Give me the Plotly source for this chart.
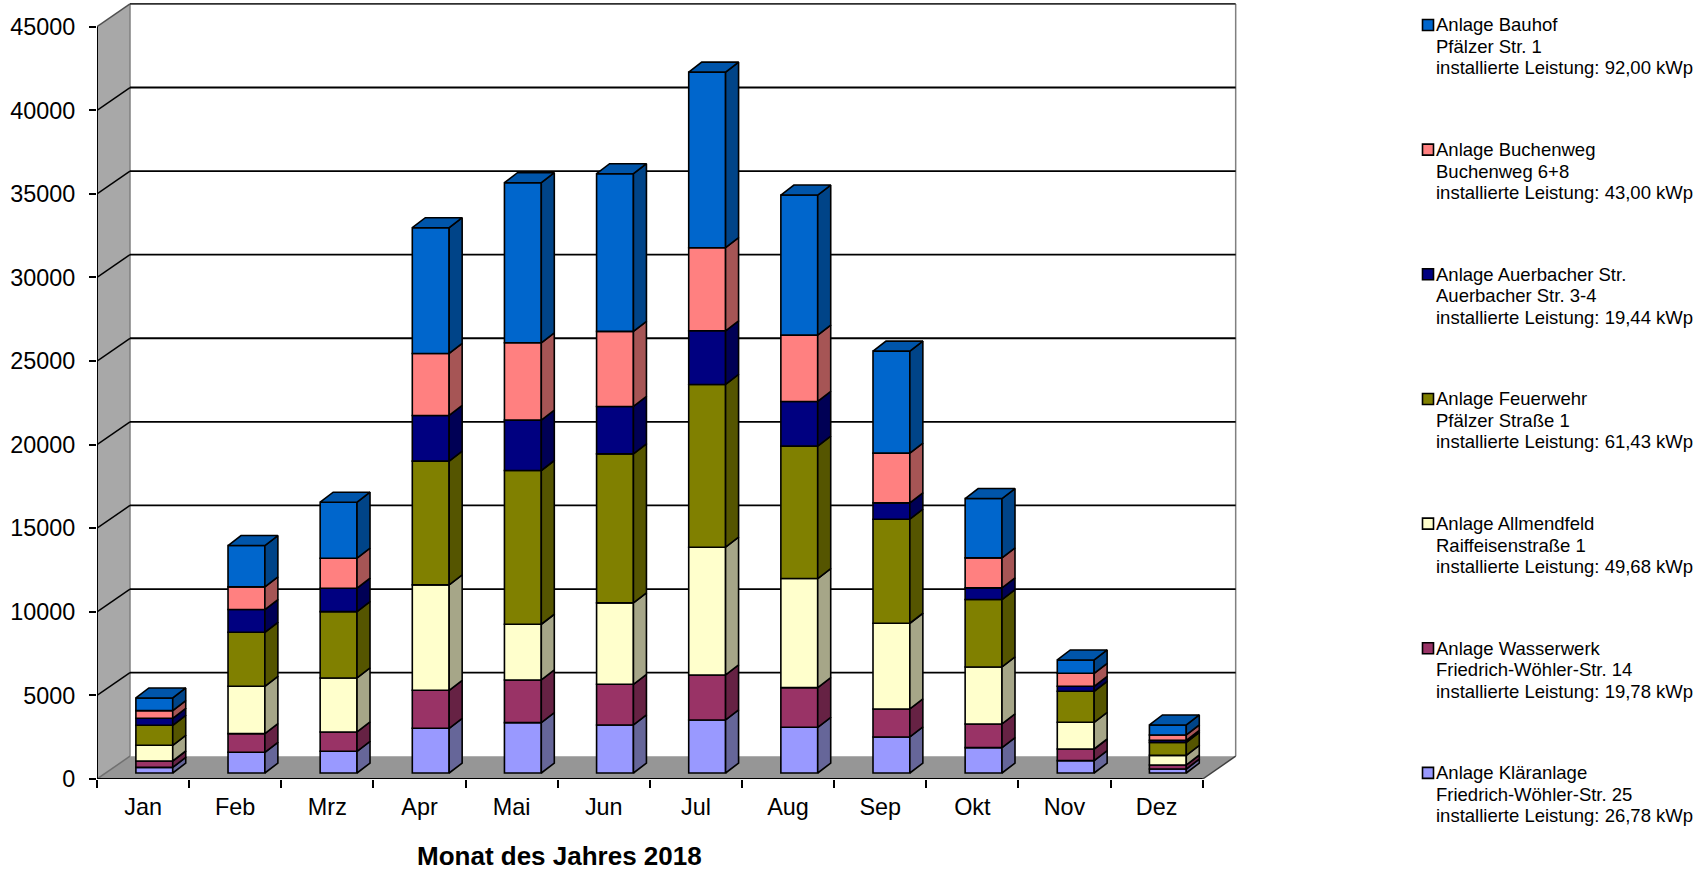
import plotly.graph_objects as go

months = ["Jan","Feb","Mrz","Apr","Mai","Jun","Jul","Aug","Sep","Okt","Nov","Dez"]
tick_values = [0,5000,10000,15000,20000,25000,30000,35000,40000,45000]
tick_labels = ["0","5000","10000","15000","20000","25000","30000","35000","40000","45000"]

klaeranlage = [339,1237,1297,2673,3012,2873,3172,2733,2155,1516,738,239]
wasserwerk  = [379,1117,1157,2275,2554,2434,2693,2374,1675,1417,698,240]
allmendfeld = [938,2833,3232,6304,3332,4868,7641,6524,5128,3411,1596,578]
feuerwehr   = [1197,3232,3970,7401,9197,8917,9736,7920,6224,4030,1856,778]
auerbacher  = [419,1357,1396,2733,3012,2833,3212,2673,978,698,299,120]
buchenweg   = [459,1356,1796,3711,4628,4489,4967,3970,2972,1796,778,319]
bauhof      = [758,2474,3352,7521,9576,9436,10505,8379,6105,3551,798,599]

series = [klaeranlage, wasserwerk, allmendfeld, feuerwehr, auerbacher, buchenweg, bauhof]
names = ["Anlage Kläranlage","Anlage Wasserwerk","Anlage Allmendfeld","Anlage Feuerwehr",
         "Anlage Auerbacher Str.","Anlage Buchenweg","Anlage Bauhof"]
addresses = ["Friedrich-Wöhler-Str. 25","Friedrich-Wöhler-Str. 14","Raiffeisenstraße 1","Pfälzer Straße 1",
             "Auerbacher Str. 3-4","Buchenweg 6+8","Pfälzer Str. 1"]
power = ["26,78","19,78","49,68","61,43","19,44","43,00","92,00"]
front = ["#9999FF","#993366","#FFFFCC","#808000","#000080","#FF8080","#0066CC"]
side  = ["#666699","#662244","#A6A688","#555500","#000055","#A65555","#004488"]
top_color = "#0055AA"
xtitle = "Monat des Jahres 2018"

# pixel geometry of the pseudo-3D frame
W, H = 1698, 870
L, R, T, B = 97, 1240, 1, 779.3
px_x = 92.14            # px per category
px_y = 0.016724         # px per value unit
xmax = (R - L) / px_x
ymax = (B - T) / px_y
DX = 33 / px_x          # wall depth
DY = 22.8 / px_y
FX = 0.122              # bar offset from category centre
FY = 6 / px_y           # bar base above floor front edge
BW = 0.4                # bar width
BDX = 13 / px_x         # bar depth
BDY = 10 / px_y
FONT = "Liberation Sans, Arial, sans-serif"

fig = go.Figure()
shapes = []

def poly(pts):
    return "M" + " L".join(f"{a},{b}" for a, b in pts) + " Z"

# left wall and floor
shapes.append(dict(type="path", xref="x", yref="y", layer="below", line=dict(width=0), fillcolor="#A8A8A8",
                   path=poly([(0,0),(DX,DY),(DX,45000+DY),(0,45000)])))
shapes.append(dict(type="path", xref="x", yref="y", layer="below", line=dict(width=0), fillcolor="#969696",
                   path=poly([(0,0),(12,0),(12+DX,DY),(DX,DY)])))
# wall edges
for xs, ys, c in [((DX,DX),(DY,45000+DY),"#808080"), ((12+DX,12+DX),(DY,45000+DY),"#808080"),
                  ((0,DX),(0,DY),"#707070"), ((12,12+DX),(0,DY),"#404040")]:
    shapes.append(dict(type="line", xref="x", yref="y", layer="below", x0=xs[0], x1=xs[1], y0=ys[0], y1=ys[1],
                       line=dict(color=c, width=1.5)))
# gridlines
for v in tick_values[1:]:
    shapes.append(dict(type="line", xref="x", yref="y", layer="below", x0=DX, x1=12+DX, y0=v+DY, y1=v+DY,
                       line=dict(color="#000000" if v < 45000 else "#303030", width=1.8)))
    shapes.append(dict(type="line", xref="x", yref="y", layer="below", x0=0, x1=DX, y0=v, y1=v+DY,
                       line=dict(color="#000000" if v < 45000 else "#505050", width=1.5)))

# bars: front faces as bars, side and top faces as filled outlines
cum = [FY] * 12
edge = dict(color="#000000", width=1.6)
for k, vals in enumerate(series):
    xc = [i + 0.5 + FX for i in range(12)]
    fig.add_trace(go.Bar(x=xc, y=vals, base=cum, width=BW, name=names[k],
                         marker=dict(color=front[k], line=edge), showlegend=False))
    sx, sy = [], []
    for i in range(12):
        xr = xc[i] + BW / 2
        y0, y1 = cum[i], cum[i] + vals[i]
        sx += [xr, xr + BDX, xr + BDX, xr, xr, None]
        sy += [y0, y0 + BDY, y1 + BDY, y1, y0, None]
    fig.add_trace(go.Scatter(x=sx, y=sy, mode="lines", fill="toself", fillcolor=side[k],
                             line=edge, hoverinfo="skip", showlegend=False))
    cum = [c + v for c, v in zip(cum, vals)]

tx, ty = [], []
for i in range(12):
    xl = i + 0.5 + FX - BW / 2
    xr = xl + BW
    yt = cum[i]
    tx += [xl, xl + BDX, xr + BDX, xr, xl, None]
    ty += [yt, yt + BDY, yt + BDY, yt, yt, None]
fig.add_trace(go.Scatter(x=tx, y=ty, mode="lines", fill="toself", fillcolor=top_color,
                         line=edge, hoverinfo="skip", showlegend=False))

# front axis lines
fig.add_trace(go.Scatter(x=[0,0,12], y=[45000,0,0], mode="lines", cliponaxis=False,
                         line=dict(color="#000000", width=2), hoverinfo="skip", showlegend=False))

# legend drawn to the reference's geometry
annotations = []
def fx(p): return (p - L) / (R - L)
def fy(p): return (B - p) / (B - T)
for j, k in enumerate(range(6, -1, -1)):
    y0 = 25 + j * 124.7
    shapes.append(dict(type="rect", xref="paper", yref="paper", x0=fx(1422.5), x1=fx(1433.5),
                       y0=fy(y0 + 5.5), y1=fy(y0 - 5.5), fillcolor=front[k],
                       line=dict(color="#000000", width=1.6)))
    lines = [names[k], addresses[k], f"installierte Leistung: {power[k]} kWp"]
    for n, txt in enumerate(lines):
        annotations.append(dict(xref="paper", yref="paper", x=fx(1434), y=fy(y0 + n * 21.5),
                                xanchor="left", yanchor="middle", text=txt, showarrow=False,
                                font=dict(family=FONT, size=18.5, color="#000000")))
annotations.append(dict(xref="paper", yref="paper", x=fx(559), y=fy(856), xanchor="center", yanchor="middle",
                        text=f"<b>{xtitle}</b>", showarrow=False,
                        font=dict(family=FONT, size=26, color="#000000")))

fig.update_layout(
    width=W, height=H, autosize=False, barmode="overlay",
    margin=dict(l=L, r=W - R, t=T, b=H - B, pad=0),
    paper_bgcolor="#FFFFFF", plot_bgcolor="#FFFFFF", showlegend=False,
    font=dict(family=FONT, color="#000000"),
    shapes=shapes, annotations=annotations,
    xaxis=dict(range=[0, xmax], tickmode="array", tickvals=[i + 0.5 for i in range(12)], ticktext=months,
               ticks="", showgrid=False, zeroline=False, showline=False, automargin=False,
               tickfont=dict(family=FONT, size=23.4), ticklabelstandoff=12,
               minor=dict(tickmode="array", tickvals=list(range(13)), ticks="outside", ticklen=8,
                          tickwidth=1.5, tickcolor="#000000", showgrid=False)),
    yaxis=dict(range=[0, ymax], tickmode="array", tickvals=tick_values, ticktext=tick_labels, ticks="outside", ticklen=7,
               tickwidth=1.5, tickcolor="#000000", showgrid=False, zeroline=False, showline=False,
               automargin=False, tickfont=dict(family=FONT, size=23.4), ticklabelstandoff=9),
)

fig.write_html("out.html", config={"displayModeBar": False},
               post_script="document.body.style.margin='0';document.body.style.overflow='hidden';")
